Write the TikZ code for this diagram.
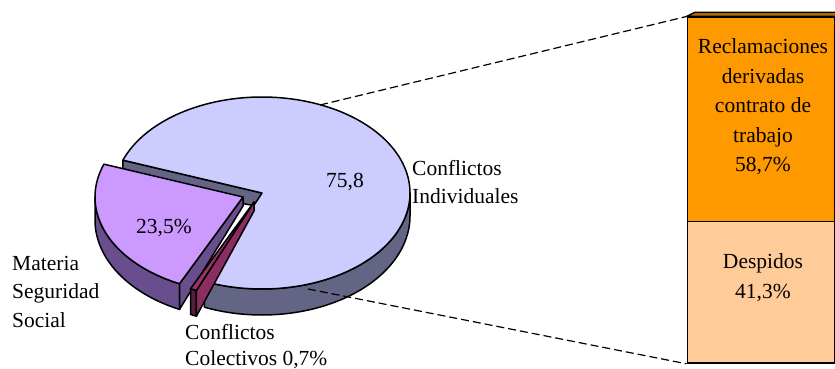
\documentclass[tikz,border=0pt]{standalone}
\usepackage{fontspec}
\setmainfont{Liberation Serif}
\definecolor{bigtop}{HTML}{CCCCFF}
\definecolor{bigside}{RGB}{100,100,132}
\definecolor{purtop}{HTML}{CC99FF}
\definecolor{purside}{RGB}{104,78,140}
\definecolor{pinktop}{HTML}{993366}
\definecolor{pinkwall}{RGB}{140,45,95}
\definecolor{pinkside}{RGB}{85,30,60}
\definecolor{barup}{HTML}{FF9900}
\definecolor{barlow}{HTML}{FFCC99}
\definecolor{bartopc}{RGB}{190,110,0}
\begin{document}
\begin{tikzpicture}[x=1pt,y=-1pt,
  face/.style={draw=black,line width=1.5pt,line join=round},
  lab/.style={font=\fontsize{21.5}{26}\selectfont,inner sep=0pt},
  dashline/.style={draw=black,line width=1.2pt,dash pattern=on 8pt off 4pt},
  barbox/.style={draw=black,line width=1.5pt,inner sep=0pt,minimum width=147pt,anchor=north west}]
\useasboundingbox (0,0) rectangle (835,369);
\def\CX{262}\def\CY{193}\def\RX{148}\def\RY{96}
\def\PX{243}\def\PY{197}
\def\KX{254}\def\KY{202}
% big slice: wall at 160
\filldraw[face,fill=bigside] (\CX,\CY) -- ({\CX+\RX*cos(160)},{\CY-\RY*sin(160)}) -- ({\CX+\RX*cos(160)},{\CY-\RY*sin(160)+23-3*sin(160)}) -- (\CX,\CY+14) -- cycle;
% big slice outer side
\filldraw[face,fill=bigside] plot[domain=247.1:360,samples=70,variable=\t] ({\CX+\RX*cos(\t)},{\CY-\RY*sin(\t)}) -- plot[domain=360:247.1,samples=70,variable=\t] ({\CX+\RX*cos(\t)},{\CY-\RY*sin(\t)+23-3*sin(\t)}) -- cycle;
% big slice top
\filldraw[face,fill=bigtop] (\CX,\CY) -- plot[domain=-112.9:160,samples=150,variable=\t] ({\CX+\RX*cos(\t)},{\CY-\RY*sin(\t)}) -- cycle;
% purple slice side
\filldraw[face,fill=purside] plot[domain=180:244.6,samples=50,variable=\t] ({\PX+\RX*cos(\t)},{\PY-\RY*sin(\t)}) -- plot[domain=244.6:180,samples=50,variable=\t] ({\PX+\RX*cos(\t)},{\PY-\RY*sin(\t)+23-3*sin(\t)}) -- cycle;
% purple wall at 244.6
\filldraw[face,fill=purside] (\PX,\PY) -- ({\PX+\RX*cos(244.6)},{\PY-\RY*sin(244.6)}) -- ({\PX+\RX*cos(244.6)},{\PY-\RY*sin(244.6)+23-3*sin(244.6)}) -- (\PX,\PY+9) -- cycle;
% purple top
\filldraw[face,fill=purtop] (\PX,\PY) -- plot[domain=160:244.6,samples=60,variable=\t] ({\PX+\RX*cos(\t)},{\PY-\RY*sin(\t)}) -- cycle;
% pink slice side
\filldraw[face,fill=pinkside] plot[domain=244.6:247.1,samples=5,variable=\t] ({\KX+\RX*cos(\t)},{\KY-\RY*sin(\t)}) -- plot[domain=247.1:244.6,samples=5,variable=\t] ({\KX+\RX*cos(\t)},{\KY-\RY*sin(\t)+23-3*sin(\t)}) -- cycle;
% pink wall at 247.1
\filldraw[face,fill=pinkwall] (\KX,\KY) -- ({\KX+\RX*cos(247.1)},{\KY-\RY*sin(247.1)}) -- ({\KX+\RX*cos(247.1)},{\KY-\RY*sin(247.1)+23-3*sin(247.1)}) -- (\KX,\KY+9) -- cycle;
% pink top
\filldraw[face,fill=pinktop] (\KX,\KY) -- plot[domain=244.6:247.1,samples=5,variable=\t] ({\KX+\RX*cos(\t)},{\KY-\RY*sin(\t)}) -- cycle;
% bar
\node[barbox,fill=barup,minimum height=204.2pt] (upper) at (686.5,16.5) {};
\node[barbox,fill=barlow,minimum height=141.6pt] (lower) at (686.5,220.7) {};
\filldraw[face,fill=bartopc] (upper.north west) -- ++(8,-4) -- ++(150,0) -- (upper.north east) -- cycle;
% dashed connectors
\coordinate (d1) at (320,105);
\coordinate (d2) at (308,289);
\draw[dashline] (d1) -- (upper.north west);
\draw[dashline] (d2) -- (lower.south west);
% labels
\node[lab,anchor=base] (v758) at (345,187) {75,8};
\node[lab,anchor=base] (v235) at (164,233) {23,5\%};
\node[lab,anchor=base west] (ci1) at (412,175) {Conflictos};
\node[lab,anchor=base west] (ci2) at (412,203) {Individuales};
\node[lab,anchor=base west] (ms1) at (12,270) {Materia};
\node[lab,anchor=base west] (ms2) at (12,298) {Seguridad};
\node[lab,anchor=base west] (ms3) at (12,327) {Social};
\node[lab,anchor=base west] (cc1) at (185,339) {Conflictos};
\node[lab,anchor=base west] (cc2) at (185,365) {Colectivos 0,7\%};
\node[lab,anchor=base] (r1) at (763,54) {Reclamaciones};
\node[lab,anchor=base] (r2) at (763,83) {derivadas};
\node[lab,anchor=base] (r3) at (763,112) {contrato de};
\node[lab,anchor=base] (r4) at (763,142) {trabajo};
\node[lab,anchor=base] (r5) at (763,171) {58,7\%};
\node[lab,anchor=base] (p1) at (763,268) {Despidos};
\node[lab,anchor=base] (p2) at (763,298) {41,3\%};
\end{tikzpicture}
\end{document}
